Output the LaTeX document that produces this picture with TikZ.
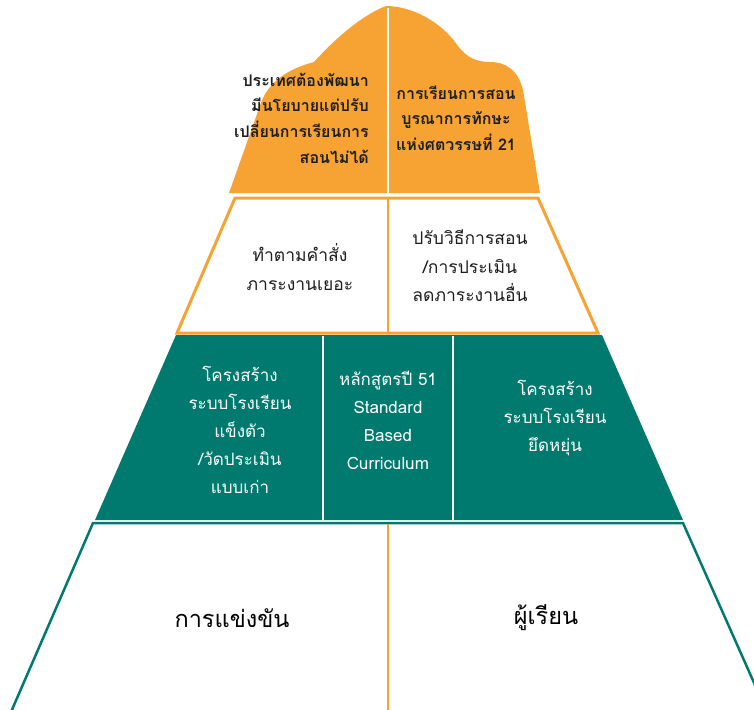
\documentclass[tikz,border=0pt]{standalone}
\usepackage{fontspec}
\newfontfamily\thaifont[Script=Thai]{Loma}
\definecolor{orng}{HTML}{F6A333}
\definecolor{tealc}{HTML}{007A6E}
\definecolor{inkc}{HTML}{1E1E1E}
\tikzset{
  toptxt/.style={font=\thaifont\bfseries\fontsize{16}{25.7}\selectfont, text=inkc, inner sep=0pt},
  midtxt/.style={font=\thaifont\fontsize{17.5}{28.4}\selectfont, text=inkc, inner sep=0pt, align=center},
  tealtxt/.style={font=\thaifont\fontsize{17}{28}\selectfont, text=white, inner sep=0pt, align=center},
  bottxt/.style={font=\thaifont\fontsize{23.5}{28}\selectfont, text=black, inner sep=0pt},
  wline/.style={draw=white, line width=1.6pt},
  oline/.style={draw=orng, line width=1.6pt}
}
\begin{document}
\begin{tikzpicture}[x=1pt,y=-1pt]
\useasboundingbox (0,0) rectangle (754,709);
\clip (0,0) rectangle (754,709);
% mountain
\fill[orng] (229,193) -- (262,100) .. controls (272,78) and (292,68) .. (314,62)
  .. controls (325,50) and (355,18) .. (386,6)
  .. controls (410,6) and (440,20) .. (458,46)
  .. controls (466,57) and (476,62) .. (490,62)
  .. controls (506,62) and (518,70) .. (523,90) -- (540,193) -- cycle;
\coordinate (mt) at (388,8);
\coordinate (mb) at (388,193);
\draw[wline] (mt) -- (mb);
% layer 2
\draw[orng, line width=3pt, fill=white, line join=miter] (235,198) -- (538,198) -- (598,333) -- (177,333) -- cycle;
\coordinate (lt) at (388,198);
\coordinate (lb) at (388,333);
\draw[draw=orng, line width=2pt] (lt) -- (lb);
% teal layer
\fill[tealc] (176,335) -- (602,335) -- (683,520) -- (95,520) -- cycle;
\coordinate (d1t) at (323,336);
\coordinate (d1b) at (323,520);
\coordinate (d2t) at (453,336);
\coordinate (d2b) at (453,520);
\draw[wline] (d1t) -- (d1b);
\draw[wline] (d2t) -- (d2b);
% bottom layer
\draw[tealc, line width=2.5pt, line join=miter] (11,712) -- (93,523) -- (683,523) -- (767,712);
\coordinate (bt) at (388,524);
\coordinate (bb) at (388,712);
\draw[oline] (bt) -- (bb);
% texts
\node[toptxt, align=right, anchor=east] (tl) at (369,118) {ประเทศต้องพัฒนา\\มีนโยบายแต่ปรับ\\เปลี่ยนการเรียนการ\\สอนไม่ได้};
\node[toptxt, align=center] (tr) at (456,118) {การเรียนการสอน\\บูรณาการทักษะ\\แห่งศตวรรษที่ 21};
\node[midtxt] (ml) at (300,267) {ทำตามคำสั่ง\\ภาระงานเยอะ};
\node[midtxt] (mr) at (470,266) {ปรับวิธีการสอน\\/การประเมิน\\ลดภาระงานอื่น};
\node[tealtxt] (t1) at (240,430) {โครงสร้าง\\ระบบโรงเรียน\\แข็งตัว\\/วัดประเมิน\\แบบเก่า};
\node[tealtxt] (t2) at (388,420) {หลักสูตรปี 51\\Standard\\Based\\Curriculum};
\node[tealtxt] (t3) at (555,418) {โครงสร้าง\\ระบบโรงเรียน\\ยึดหยุ่น};
\node[bottxt] (b1) at (232,618) {การแข่งขัน};
\node[bottxt] (b2) at (546,618) {ผู้เรียน};
\end{tikzpicture}
\end{document}
